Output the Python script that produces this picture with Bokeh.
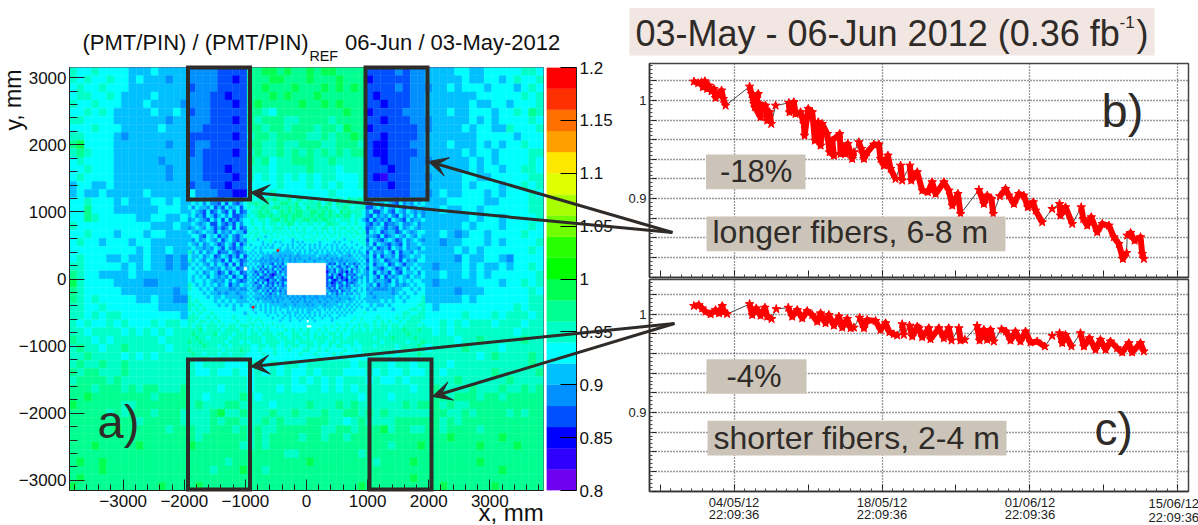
from bokeh.embed import file_html
from bokeh.resources import INLINE
from bokeh.plotting import figure
from bokeh.models import (Range1d, FixedTicker, LinearColorMapper, ColumnDataSource,
                          CustomJSTickFormatter, Arrow, VeeHead)
from bokeh.core.properties import value
from bokeh.transform import transform

FONT = "Liberation Sans"
INK = "#2f2b28"

# ---------- detector map: colour level of every cell ----------
# digit k means ratio 0.81 + 0.02 k, r = the red outliers, . = no reading
OUTER = """
7667666655565555 44443333 8899898898998888 33334344 5555665566666776
7676676656555455 44443323 8889988898889888 23333344 5555565566567667
6766766655555555 34443333 8898889888989898 33334344 4556566656665676
6776676555565555 44433233 8889898889888888 32333344 5555555666666767
7667666555655554 44433323 8988888988989888 33233344 5555556556656667
6676765555565565 34433333 8876888888888988 23333444 5556556665667687
7766665555555455 44433323 8788877888878888 33233344 4555556565666676
6667666555556555 44333333 8878878887887988 23333334 4555565665576667
7766665455555555 33333323 7887888877878898 33233334 5555555666665666
8966665555555455 34433333 8877877888778887 32233344 5556555656566766
7876665555555555 34333323 7877878787878788 32233334 5555565665666677
6766665555554555 44333333 8786778887787777 33233344 4555556565666676
6676665555555455 44333233 7776777787776777 33323344 5555556566566776
6766665555555455 44333323 7676767676776667 32133344 4555566556666677
5665565555555555 34433233 6666766676767667 33323344 5555565666566767
5655655555655555 64443322 7667666666676666 33333344 4565566656566676
6676665655566565 | 5556666655666677
6686665555556665 | 5565566566666677
6687666665566556 | 5555556566566667
7666666666655565 | 5555565666566676
6676665666566555 | 5565456656666766
6766566656655555 | 5545566656566667
6666666665655655 | 5555656566666676
6766655655655454 | 5555465566546666
7766666565655454 | 5455565655656676
8766555565555555 | 5565565656666667
9766665555445555 | 5455555666566767
8766666555555545 | 5555455566666676
8767666665565544 | 5555565666666677
7766766666665555 | 6566666666667677
7767677666666665 | 6666676667677767
7676676766676776 | 6676767776777677
7767777676767677 | 7676777777776777
8776767777776777 | 7777677877777877
7877677877777677 | 6777787777677777
7787777676767777 | 7777777678777787
7877877877777777 7677766677676776 7777776777767767 7776777777777787
8788777877777777 7667667667676766 7677766676766766 7767777778777778
7888878777777777 7777777767777767 6767677767667677 7777877777787777
8887888787887778 7777677767776766 7767676777777767 7877778777877878
8898888888878888 7767777876777777 7777777677767777 7887888788788888
9888888778888888 7877788777767777 8777878777777878 8878778888888888
8888878788878887 7778977877787787 7787788787877777 7887787888878788
8888888887888887 7778788777878777 8887767877778888 8878788888888888
8888889888888788 8778887878778888 8877887888978877 8878888788888888
8888888888888888 8788888878788887 8878878888888888 8889888888988888
8889888889888888 9888888778788888 8888888888878889 8888888988889888
8888888888888888 8888888888888778 8888888788888888 8888888888888888
8988988888888888 8888878888888888 9888888887888898 8888888988888888
8888988888888888 8887888988788888 8888888888888888 8888888888988888
8988888888888888 8888888888888888 8888888888888898 8888888888888888
9888888888889888 8988888888888888 8888888988888888 8898888889888888
""".split("\n")[1:-1]

MIDDLE = """
5656464353655436 7767687877786786 7867677687687787 3645655436354545
5656464436364356 7787786778877867 7778678687787768 4365565436454656
6465546353645636 7677877887787876 8778787677876777 3356465465354465
5654363464363634 6778787678787887 7887878768787776 4633564365465454
5645365356463345 7678878778878887 7878878787886776 4364546436456464
4565436463634356 6767767887878778 8787887767776765 3635453654364556
5654563364353646 6766767767787676 7767678776676766 4354634456445645
4565465353463634 6676766777676767 6676776767767676 3456535436456545
6545655364546553 | 3656345534654566
5664365635464356 | 4543634565465465
5464565463564354 | 3654356534645654
6546456534653635 | 4636543543645565
5655454653643546 | 5463453654645546
7564645634464345 | 3645465363554655
6556456346535363 | 4636355463456556
7565465453636534 | 3645634553645466
5656546465363635 | 4635563465355655
656565454645634. | 3654356534646565
6656456534635634 | 4636453643655646
6565646545463563 | 4653635456546556
6566565454646434 | 4645543646565665
7656565645635465 | 5463545645456566
7665656455544544 | 4544445455665656
6666565545455455 | 5455555456566566
7666656556555545 | 5545555565656667
7676666565656555 | 5555656566566667
7767666656565656 | 6565565666666677
7676766666665666 | 5656666566667767
6767667666666665 | 6666666666776677
7776676766667666 | 6667666676767777
7767767676666766 | 6676767667677776
7677677767677677 | 7676776776777767
7778677776777767 6767676666767676 7667676676767676 7677776777877787
7877777867776777 6776777677667767 7676767767667777 7777767777787777
7787767777767777 7777677767767776 7677776777677777 7767777877777877
8778777777677767 6777677776777677 7767767767777677 7777677777767778
7777877767767777 7667767766767766 7767667677667667 7767777767777787
8777777776777787 7667666766676667 7667676666766767 7777777767877777
7877677767767777 6666766766666676 6676666767666667 7776767767777787
7777876777777776 6666666666666666 6667666666766666 6777777677777777
""".split("\n")[1:-1]

INNER = """
7676767776776767 6676767766767676 7667676677677667
6767766767667676 7676676767667676 6767676766767767
7667676566767666 6767667666767667 6676676676676676
6676566767666676 6656766767676676 7666766567666767
7666665667656566 6656565666766566 6665656666566676
6566665656566656 5656656565656566 5656566566665667
7665656565566566 5656565665656565 6656565656566656
665665666666r565 5565656565565656 5656556565656566
6565655656555555 5556556565655656 5565655655656556
5656565554555454 5455455555556555 4555565554565655
6565654554454545 5454545554555454 5545454555556565
5655545454544545 5454555455545555 4545544545555656
6565654554364536 | 5343645364535465
5656453646435354 | 3646435534653656
5645635345364534 | 3453643546354565
6553453635436354 | 2453643425364565
5645364353235464 | 3635423634435655
6554633543364535 | 3326342436354546
5646354325436433 | 3632353325434656
6553463634353536 | 3423534634345656
5645436435364534 | 3533643534645566
6555345453536445 | 4353634544565656
5654564536345354 | 5434363454645656
6565546453546454 | 4645354645465566
5655554544545455 4545454454544545 4455455555656566
6565455454554545 5454545455454554 5545545554556565
5656565555454555 5545455454555455 4555455565565656
6565656565555554 5554555545455554 5555565655656566
65r5656565656555 5655555555555655 5556555656565656
6656656565656566 5656565655565565 6565656565656666
6665666565656656 5565565655656566 5656565656566667
7666666656665665 6565656565656565 6566656566666666
6766766666566656 6566565656566656 6656566666676676
7667676666666566 65666566.6656666 6656666666766676
6776667666766666 6666666666666666 6666766676666767
7676767676667676 66666666..666667 6676676676676767
""".split("\n")[1:-1]

PALETTE = ["#7000f0", "#3000ff", "#0000ff", "#0050ff", "#0090ff", "#00c0ff", "#00ffff",
           "#00ffc8", "#00ff90", "#00ff50", "#00ff00", "#28ff00", "#70ff00", "#a8ff00",
           "#e0ff00", "#ffe800", "#ffa000", "#ff7000", "#ff3000", "#ff0000"]
COLORBAR_TICKS = [0.8, 0.85, 0.9, 0.95, 1, 1.05, 1.1, 1.15, 1.2]

# section half-widths in mm and cell size
OUTER_GEOM = (3878.4, 3151.2, 121.2, 64)
MIDDLE_GEOM = (1939.2, 1212.0, 60.6, 64)
INNER_GEOM = (969.6, 727.2, 40.4, 48)

# ---------- time series: days after 04/05/12 22:09:36, ratio; one list per unbroken run ----------
DAYS_B = [
 [-3.80,-3.39,-3.07,-2.95,-2.76,-2.54,-2.38,-2.13,-1.91,-1.75,-1.50,-1.18,-1.02,-0.80],
 [1.47,1.66,1.88,2.29,1.97,2.51,2.41,2.98,3.14,3.36,3.52],
 [3.93],
 [5.19,5.25,5.66,5.82,6.29,6.61,6.67,7.02,7.40,7.65,7.96,8.19,8.34,8.82,9.04,9.45,9.29,10.0,10.08,10.24,10.55,10.77,11.18,11.34],
 [11.81,12.04,12.29,12.6,13.23,13.71,13.86,14.18,14.56,14.81,15.28],
 [15.76,15.91],
 [16.64,16.77,17.33,17.81,18.34,18.75,19.07,19.86,20.33,20.65,21.18,21.43],
 [23.17,23.64,23.96,24.36,24.52],
 [25.15,25.69,26.0,26.48,26.95,27.42,27.8,28.31,28.53,29.16],
 [30.1],
 [30.8,30.89,31.37,32.0],
 [32.85,33.04,33.42,33.8,34.36,34.84,35.47,35.94,36.41,36.79,37.14],
 [37.2,37.52,37.9,38.46,38.62,38.78],
]
RATIO_B = [
 [1.0194,1.0177,1.0187,1.0136,1.0197,1.0119,1.0153,1.0095,1.0119,1.0027,1.0061,1.0102,1.0017,0.9949],
 [1.0143,1.0068,0.9966,1.0068,0.9932,0.9830,0.9966,0.9949,0.9796,0.9881,0.9762],
 [0.9949],
 [0.9976,0.9881,0.9983,0.9864,0.9881,0.9762,0.9643,0.9915,0.9881,0.9592,0.9779,0.9541,0.9762,0.9660,0.9473,0.9439,0.9592,0.9660,0.9456,0.9541,0.9456,0.9558,0.9405,0.9473],
 [0.9575,0.9507,0.9405,0.9473,0.9551,0.9551,0.9405,0.9337,0.9439,0.9303,0.9201],
 [0.9337,0.9184],
 [0.9337,0.9184,0.9269,0.9082,0.9065,0.9167,0.9048,0.9167,0.9082,0.8929,0.9048,0.8844],
 [0.9089,0.8946,0.9031,0.8997,0.8844],
 [0.9024,0.9099,0.9031,0.8946,0.9048,0.9031,0.8912,0.8963,0.8878,0.8759],
 [0.8895],
 [0.8946,0.8827,0.8912,0.8742],
 [0.8912,0.8793,0.8725,0.8810,0.8657,0.8742,0.8725,0.8606,0.8538,0.8385,0.8446],
 [0.8623,0.8650,0.8572,0.8606,0.8436,0.8385],
]
DAYS_C = [
 [-3.80,-3.33,-3.01,-2.7,-2.22,-1.75,-1.43,-1.12,-0.96,-0.65],
 [1.47,1.72,2.1,2.51,2.92,3.14,3.55],
 [3.99],
 [5.13,5.5,5.98,6.45,6.92,7.4,7.87,8.19,8.66,8.97,9.45,9.92,10.24,10.71,11.03,11.34],
 [11.88,12.29,12.6,13.39,13.86,14.34,14.71,15.12,15.44],
 [15.91,16.07],
 [16.6,16.86,17.33,17.49,17.8,18.43,18.59,19.38,19.85,20.32,20.58],
 [21.27,21.43,21.84],
 [23.0,23.23,23.64,23.95,24.27,24.58],
 [25.31,25.75,26.16,26.63,27.1,27.58,28.05,28.68,29.41],
 [30.1],
 [30.8,31.05,31.36,31.93],
 [32.78,33.1,33.63,34.2,34.67,35.15,35.62,36.25,36.73,37.36,37.67,38.46,38.77],
]
RATIO_C = [
 [1.0084,1.0094,1.0060,1.0027,1.0000,1.0043,1.0010,1.0084,1.0027,1.0003],
 [1.0104,0.9993,1.0060,0.9986,1.0067,0.9976,0.9952],
 [1.0053],
 [1.0067,0.9976,1.0043,0.9959,1.0033,0.9993,0.9925,1.0010,0.9909,0.9993,0.9885,0.9976,0.9865,0.9952,0.9858,0.9865],
 [0.9966,0.9858,0.9942,0.9932,0.9841,0.9909,0.9818,0.9797,0.9784],
 [0.9899,0.9791],
 [0.9885,0.9774,0.9874,0.9858,0.9767,0.9858,0.9746,0.9858,0.9756,0.9858,0.9733],
 [0.9858,0.9733,0.9740],
 [0.9881,0.9733,0.9841,0.9740,0.9841,0.9723],
 [0.9847,0.9824,0.9733,0.9824,0.9723,0.9824,0.9713,0.9723,0.9672],
 [0.9780],
 [0.9807,0.9706,0.9790,0.9672],
 [0.9807,0.9672,0.9756,0.9639,0.9740,0.9639,0.9723,0.9655,0.9612,0.9706,0.9612,0.9706,0.9622],
]
Y_GRID_TICKS = [0.82,0.84,0.86,0.88,0.90,0.92,0.94,0.96,0.98,1.00,1.02]
Y_LABELS = {"0.90": "0.9", "1.00": "1"}
X_MAJOR_DAYS = [-7,0,7,14,21,28,35,42]
X_GRID_DAYS = [0,14,28,42]
X_LABELS = {"0": "04/05/12\n22:09:36", "14": "18/05/12\n22:09:36", "28": "01/06/12\n22:09:36"}


def cells(rows, geom):
    hx, hy, d, ncols = geom
    x0, x1, y0, y1, v = [], [], [], [], []
    for r, row in enumerate(rows):
        parts = row.replace(" ", "").split("|")
        left = parts[0]
        right = parts[1] if len(parts) > 1 else ""
        row_cells = list(enumerate(left)) + [(ncols - len(right) + i, c) for i, c in enumerate(right)]
        for c, ch in row_cells:
            if ch == ".":
                continue
            level = 19 if ch == "r" else int(ch)
            x0.append(-hx + c * d); x1.append(-hx + (c + 1) * d)
            y1.append(hy - r * d); y0.append(hy - (r + 1) * d)
            v.append(0.81 + 0.02 * level)
    return dict(x0=x0, x1=x1, y0=y0, y1=y1, v=v)


def place(fig, left, top):
    fig.styles = {"position": "absolute", "left": f"{left}px", "top": f"{top}px"}
    return fig


# ---------- panel a ----------
mapper = LinearColorMapper(palette=PALETTE, low=0.8, high=1.2)
a = figure(width=537, height=455, output_backend="svg", toolbar_location=None,
           x_range=Range1d(-3878.4, 3878.4), y_range=Range1d(-3151.2, 3151.2),
           min_border_left=61, min_border_right=2, min_border_top=7, min_border_bottom=25,
           background_fill_color="white", border_fill_color=None)
a.grid.visible = False
for rows, geom in ((OUTER, OUTER_GEOM), (MIDDLE, MIDDLE_GEOM), (INNER, INNER_GEOM)):
    src = ColumnDataSource(cells(rows, geom))
    a.quad(left="x0", right="x1", bottom="y0", top="y1", source=src,
           fill_color=transform("v", mapper), line_color=transform("v", mapper), line_width=0.4)
a.xaxis.ticker = FixedTicker(ticks=[-3000,-2000,-1000,0,1000,2000,3000],
                             minor_ticks=list(range(-3800, 3801, 200)))
a.yaxis.ticker = FixedTicker(ticks=[-3000,-2000,-1000,0,1000,2000,3000],
                             minor_ticks=list(range(-3000, 3001, 200)))
for ax, mj, mn in ((a.xaxis, 11, 6), (a.yaxis, 15, 8)):
    ax.major_tick_in = mj; ax.major_tick_out = 0
    ax.minor_tick_in = mn; ax.minor_tick_out = 0
    ax.major_tick_line_color = "#222"; ax.minor_tick_line_color = "#222"
    ax.axis_line_color = "#222"
    ax.major_label_text_font = FONT
    ax.major_label_text_font_size = "17px"
    ax.major_label_text_color = "#111"
    ax.major_label_standoff = 4
a.yaxis.major_label_standoff = 3
a.outline_line_color = "#557"
a.outline_line_width = 1

# ---------- colour bar ----------
levels = [0.8 + 0.02 * i for i in range(len(PALETTE))]
cb = figure(width=75, height=455, output_backend="svg", toolbar_location=None,
            x_range=Range1d(0, 1), y_range=Range1d(0.8, 1.2), y_axis_location="right",
            x_axis_location=None, min_border_left=1, min_border_right=44, min_border_top=7,
            min_border_bottom=25, background_fill_color="white", border_fill_color=None)
cb.grid.visible = False
cb.quad(left=0, right=1, bottom=levels, top=[l + 0.02 for l in levels], fill_color=PALETTE,
        line_color=PALETTE, line_width=0.3)
cb.yaxis.ticker = FixedTicker(ticks=COLORBAR_TICKS)
cb.yaxis.formatter = CustomJSTickFormatter(code="return String(+tick.toFixed(2));")
cb.yaxis.major_tick_in = 16; cb.yaxis.major_tick_out = 0
cb.yaxis.minor_tick_in = 0; cb.yaxis.minor_tick_out = 0
cb.yaxis.major_label_text_font = FONT
cb.yaxis.major_label_text_font_size = "17px"
cb.yaxis.major_label_text_color = "#111"
cb.yaxis.major_label_standoff = 3
cb.yaxis.axis_line_color = "#222"
cb.outline_line_color = None


# ---------- panels b and c ----------
def series_panel(days, ratio, height, b_top, b_bottom, y0, y1, labels):
    f = figure(width=578, height=height, output_backend="svg", toolbar_location=None,
               x_range=Range1d(-8, 43), y_range=Range1d(y0, y1),
               min_border_left=29, min_border_right=10, min_border_top=b_top,
               min_border_bottom=b_bottom, background_fill_color="white", border_fill_color=None)
    all_x = [d for seg in days for d in seg]
    all_y = [r for seg in ratio for r in seg]
    f.line(all_x, all_y, line_color="#333", line_width=0.9)
    f.multi_line([s for s in days if len(s) > 1], [s for s in ratio if len(s) > 1],
                 line_color="#ff0000", line_width=6, line_join="round")
    f.scatter(all_x, all_y, marker="star", size=9, fill_color="#ff0000", line_color="#ff0000")
    f.xaxis.ticker = FixedTicker(ticks=X_MAJOR_DAYS, minor_ticks=list(range(-8, 44)))
    f.yaxis.ticker = FixedTicker(ticks=Y_GRID_TICKS,
                                 minor_ticks=[0.82 + 0.004 * i for i in range(55)])
    f.xgrid.ticker = FixedTicker(ticks=X_GRID_DAYS)
    f.ygrid.ticker = FixedTicker(ticks=Y_GRID_TICKS)
    for g in (f.xgrid, f.ygrid):
        g.grid_line_color = "#333"
        g.grid_line_dash = "1 2"
        g.grid_line_width = 1.3
    f.yaxis.formatter = CustomJSTickFormatter(args=dict(labels=Y_LABELS),
                                              code="return labels[tick.toFixed(2)] || '';")
    f.xaxis.formatter = CustomJSTickFormatter(args=dict(labels=labels),
                                              code="return labels[String(tick)] || '';")
    for ax in (f.xaxis, f.yaxis):
        ax.major_tick_in = 7; ax.major_tick_out = 0
        ax.minor_tick_in = 3; ax.minor_tick_out = 0
        ax.major_tick_line_color = "#222"; ax.minor_tick_line_color = "#444"
        ax.axis_line_color = "#333"; ax.axis_line_width = 1.5
        ax.major_label_text_font = FONT
        ax.major_label_text_font_size = "13px"
        ax.major_label_text_color = "#222"
        ax.major_label_text_line_height = 0.85
        ax.major_label_standoff = 3
    f.outline_line_color = "#444"
    f.outline_line_width = 1.5
    return f


pb = series_panel(DAYS_B, RATIO_B, 221, 5, 2, 0.8195, 1.0378, {})
pc = series_panel(DAYS_C, RATIO_C, 248, 2, 32, 0.8195, 1.0354, X_LABELS)

# ---------- overlay: boxes, arrows and the texts drawn over the panels ----------
ov = figure(width=1198, height=525, output_backend="svg", toolbar_location=None,
            x_range=Range1d(0, 1198), y_range=Range1d(525, 0), x_axis_location=None,
            y_axis_location=None, min_border=0, background_fill_color=None,
            border_fill_color=None, outline_line_color=None)
ov.grid.visible = False

BOXES = [(187.5, 249.5, 67, 199), (365, 427, 67, 199), (187.5, 249.5, 359, 489), (369, 431, 359, 489)]
ov.quad(left=[b[0] for b in BOXES], right=[b[1] for b in BOXES], top=[b[2] for b in BOXES],
        bottom=[b[3] for b in BOXES], fill_color=None, line_color=INK, line_width=4, line_join="miter")

for x0, y0, x1, y1 in ((672, 232, 250, 192), (672, 232, 428, 161), (674, 323, 250, 366), (674, 323, 432, 396)):
    ov.add_layout(Arrow(end=VeeHead(size=19, fill_color=INK, line_color=INK, line_width=1),
                        x_start=x0, y_start=y0, x_end=x1, y_end=y1, line_color=INK, line_width=3))

ov.quad(left=[629], right=[1154], top=[7.5], bottom=[55], fill_color="#f1e6e2", line_color=None)
GREY = [(705.5, 805, 154, 188.7), (706, 1005, 216, 250.7), (706, 806, 358.7, 393.3), (707, 1006, 420.3, 455)]
ov.quad(left=[b[0] for b in GREY], right=[b[1] for b in GREY], top=[b[2] for b in GREY],
        bottom=[b[3] for b in GREY], fill_color="#ccc4b8", line_color=None)

TEXTS = [
    ("(PMT/PIN) / (PMT/PIN)", 82, 50, 22, "#111", 0),
    ("REF", 309, 61, 14.3, "#111", 0),
    ("06-Jun / 03-May-2012", 344.5, 50, 22, "#111", 0),
    ("y, mm", 13, 130, 23, "#111", 1.5708),
    ("x, mm", 478, 521, 24, "#111", 0),
    ("a)", 97, 438, 47, INK, 0),
    ("b)", 1101, 127, 47, INK, 0),
    ("c)", 1094, 445, 46, INK, 0),
    ("03-May - 06-Jun 2012 (0.36 fb", 635, 46, 36, INK, 0),
    ("-1", 1119, 28, 17, INK, 0),
    (")", 1136, 46, 36, INK, 0),
    ("-18%", 719.5, 181.7, 31, INK, 0),
    ("longer fibers, 6-8 m", 712, 242.7, 32, INK, 0),
    ("-4%", 726, 387, 31, INK, 0),
    ("shorter fibers, 2-4 m", 713, 449, 32, INK, 0),
    ("15/06/12", 1148, 508, 13, "#222", 0),
    ("22:09:36", 1148, 522, 13, "#222", 0),
]
for t, x, y, size, col, ang in TEXTS:
    # the SVG output sets this baseline about 0.36 em low
    yy = y if ang else y - 0.36 * size
    ov.text(x=[x], y=[yy], text=[t], text_font=value(FONT), text_font_size=f"{size}px",
            text_color=col, text_baseline="alphabetic", text_align="left", angle=ang)

place(a, 8, 60); place(cb, 545, 60); place(pc, 620, 277); place(pb, 620, 58); place(ov, 0, 0)
open("out.html", "w").write(file_html([a, cb, pc, pb, ov], INLINE))
